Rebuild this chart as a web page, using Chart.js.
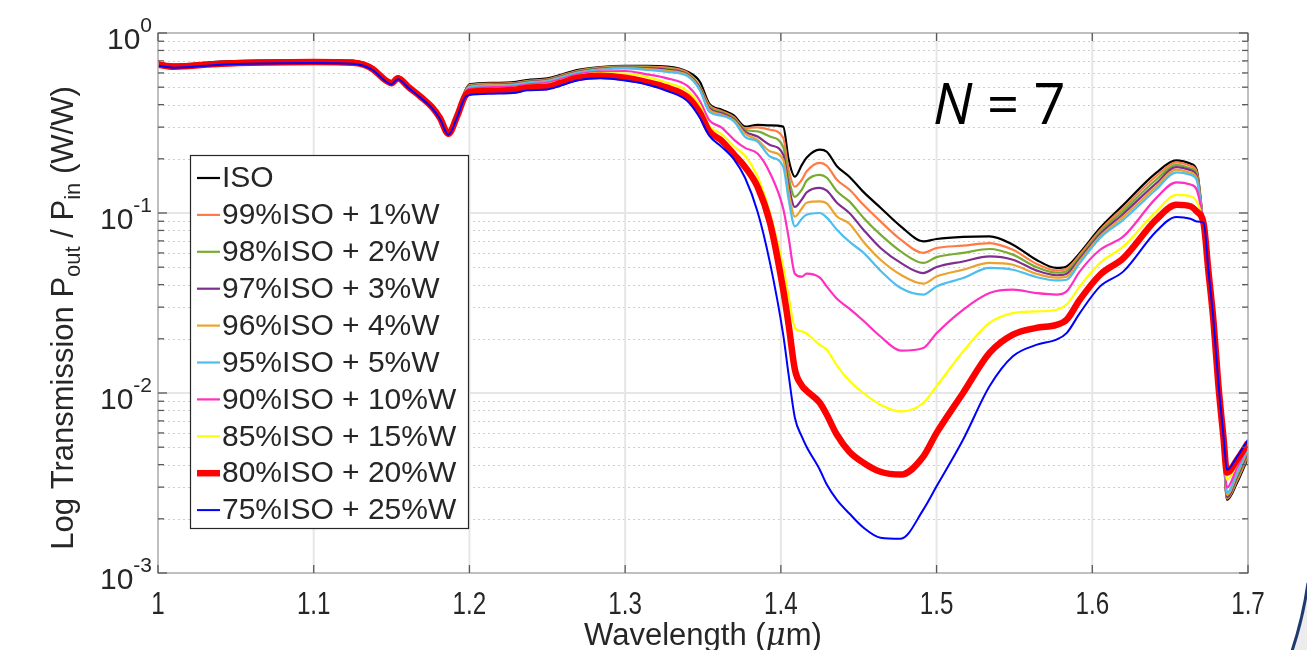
<!DOCTYPE html>
<html>
<head>
<meta charset="utf-8">
<script src="https://cdn.jsdelivr.net/npm/chart.js@4.4.1/dist/chart.umd.min.js"></script>
<style>
html,body{margin:0;padding:0;background:#ffffff;}
#wrap{position:relative;width:1307px;height:650px;overflow:hidden;}
canvas{display:block;}
</style>
</head>
<body>
<div id="wrap"><canvas id="c" width="1307" height="650"></canvas></div>
<script>
// ---------------- DATA ----------------
const wavelength = [1.000,1.010,1.040,1.070,1.100,1.125,1.132,1.138,1.146,1.150,1.154,1.161,1.169,1.176,1.181,1.1865,1.192,1.197,
1.200,1.215,1.230,1.237,1.250,1.258,1.269,1.284,1.300,1.314,1.327,1.340,
1.348,1.354,1.362,1.370,1.377,1.385,1.393,1.4015,
1.405,1.409,1.4135,1.4165,1.425,1.4295,1.436,1.444,1.453,1.464,1.477,1.4915,
1.500,1.517,1.534,1.549,1.564,1.577,1.5835,1.592,1.605,1.620,1.641,1.654,1.663,1.667,
1.6715,1.6746,1.6778,1.681,1.6842,1.6865,1.693,1.700];

const tISO = [0.684,0.667,0.693,0.703,0.708,0.702,0.684,0.646,0.561,0.540,0.575,0.513,0.451,0.397,0.347,0.283,0.352,0.472,
0.519,0.529,0.536,0.548,0.560,0.584,0.623,0.647,0.656,0.656,0.650,0.610,
0.536,0.405,0.375,0.347,0.302,0.309,0.307,0.302,
0.198,0.159,0.185,0.203,0.225,0.219,0.182,0.159,0.131,0.107,0.0843,0.0696,
0.0717,0.0736,0.0741,0.0667,0.0550,0.0495,0.0505,0.0600,0.0825,0.111,0.167,0.196,0.188,0.174,
0.0828,0.0454,0.0237,0.00979,0.00484,0.00255,0.00318,0.00437];

const t99ISO1W = [0.675,0.658,0.684,0.694,0.699,0.693,0.675,0.638,0.554,0.533,0.568,0.506,0.445,0.392,0.343,0.279,0.347,0.466,
0.513,0.523,0.529,0.541,0.552,0.577,0.615,0.642,0.652,0.650,0.642,0.602,
0.506,0.397,0.368,0.340,0.296,0.299,0.290,0.262,
0.174,0.140,0.153,0.170,0.190,0.183,0.153,0.135,0.111,0.0898,0.0711,0.0600,
0.0639,0.0658,0.0681,0.0625,0.0523,0.0480,0.0490,0.0587,0.0802,0.107,0.160,0.191,0.183,0.170,
0.0828,0.0454,0.0237,0.00991,0.00490,0.00259,0.00326,0.00448];

const t98ISO2W = [0.675,0.658,0.684,0.694,0.699,0.693,0.675,0.638,0.554,0.533,0.568,0.506,0.445,0.392,0.343,0.279,0.347,0.466,
0.509,0.519,0.526,0.538,0.549,0.573,0.611,0.638,0.647,0.643,0.633,0.594,
0.500,0.390,0.363,0.336,0.290,0.284,0.266,0.233,
0.157,0.123,0.135,0.151,0.163,0.157,0.132,0.116,0.0942,0.0758,0.0612,0.0528,
0.0569,0.0600,0.0631,0.0587,0.0501,0.0466,0.0475,0.0572,0.0782,0.103,0.153,0.185,0.177,0.165,
0.0828,0.0454,0.0239,0.00991,0.00497,0.00262,0.00334,0.00460];

const t97ISO3W = [0.675,0.658,0.684,0.694,0.699,0.693,0.675,0.638,0.554,0.533,0.568,0.506,0.445,0.392,0.343,0.279,0.347,0.466,
0.506,0.516,0.523,0.534,0.545,0.569,0.607,0.633,0.643,0.637,0.625,0.588,
0.494,0.382,0.358,0.330,0.283,0.266,0.239,0.211,
0.142,0.108,0.119,0.130,0.138,0.133,0.114,0.100,0.0808,0.0639,0.0528,0.0464,
0.0501,0.0538,0.0574,0.0550,0.0480,0.0451,0.0460,0.0557,0.0762,0.0991,0.146,0.180,0.173,0.161,
0.0828,0.0460,0.0239,0.0100,0.00503,0.00265,0.00343,0.00472];

const t96ISO4W = [0.675,0.658,0.684,0.694,0.699,0.693,0.675,0.638,0.554,0.533,0.568,0.506,0.445,0.392,0.343,0.279,0.347,0.466,
0.503,0.513,0.519,0.531,0.542,0.566,0.603,0.629,0.639,0.630,0.617,0.583,
0.487,0.375,0.352,0.326,0.276,0.255,0.220,0.198,
0.131,0.0954,0.106,0.114,0.116,0.113,0.0957,0.0872,0.0693,0.0550,0.0454,0.0405,
0.0444,0.0484,0.0528,0.0516,0.0460,0.0437,0.0443,0.0543,0.0743,0.0954,0.140,0.174,0.167,0.157,
0.0828,0.0460,0.0243,0.0102,0.00509,0.00272,0.00352,0.00484];

const t95ISO5W = [0.675,0.658,0.684,0.694,0.699,0.693,0.675,0.638,0.554,0.533,0.568,0.506,0.445,0.392,0.343,0.279,0.347,0.460,
0.500,0.509,0.516,0.527,0.539,0.562,0.599,0.625,0.636,0.623,0.607,0.577,
0.481,0.365,0.347,0.322,0.265,0.249,0.206,0.181,
0.119,0.0843,0.0930,0.0979,0.100,0.0942,0.0808,0.0693,0.0602,0.0478,0.0383,0.0352,
0.0391,0.0435,0.0495,0.0484,0.0441,0.0422,0.0426,0.0528,0.0726,0.0918,0.135,0.168,0.163,0.153,
0.0839,0.0460,0.0243,0.0102,0.00516,0.00279,0.00361,0.00497];

const t90ISO10W = [0.675,0.658,0.684,0.694,0.699,0.693,0.675,0.638,0.554,0.533,0.568,0.506,0.445,0.392,0.343,0.279,0.347,0.454,
0.490,0.500,0.506,0.517,0.528,0.551,0.588,0.610,0.615,0.589,0.560,0.508,
0.419,0.328,0.298,0.255,0.230,0.214,0.167,0.106,
0.0729,0.0460,0.0443,0.0460,0.0437,0.0390,0.0334,0.0294,0.0252,0.0206,0.0172,0.0178,
0.0215,0.0290,0.0359,0.0375,0.0359,0.0352,0.0367,0.0474,0.0625,0.0741,0.121,0.148,0.144,0.135,
0.0850,0.0466,0.0246,0.0104,0.00536,0.00298,0.00385,0.00509];

const t85ISO15W = [0.667,0.650,0.675,0.686,0.690,0.684,0.667,0.629,0.547,0.526,0.561,0.500,0.440,0.387,0.338,0.276,0.343,0.448,
0.481,0.490,0.497,0.508,0.518,0.541,0.577,0.598,0.594,0.569,0.529,0.476,
0.395,0.305,0.274,0.234,0.208,0.160,0.100,0.0503,
0.0343,0.0231,0.0220,0.0214,0.0185,0.0174,0.0142,0.0117,0.0100,0.00861,0.00790,0.00880,
0.0109,0.0170,0.0245,0.0278,0.0284,0.0290,0.0310,0.0391,0.0528,0.0652,0.102,0.126,0.124,0.116,
0.0861,0.0472,0.0249,0.0107,0.00550,0.00330,0.00405,0.00516];

const t80ISO20W = [0.667,0.650,0.675,0.686,0.690,0.684,0.667,0.629,0.547,0.526,0.561,0.500,0.440,0.387,0.338,0.276,0.343,0.443,
0.470,0.478,0.484,0.497,0.503,0.526,0.562,0.579,0.564,0.534,0.497,0.441,
0.361,0.285,0.252,0.211,0.180,0.140,0.0884,0.0375,
0.0239,0.0135,0.0110,0.0103,0.00883,0.00757,0.00586,0.00472,0.00410,0.00365,0.00352,0.00444,
0.00600,0.0100,0.0167,0.0211,0.0230,0.0239,0.0255,0.0330,0.0454,0.0562,0.0918,0.111,0.109,0.102,
0.0872,0.0472,0.0252,0.0110,0.00572,0.00361,0.00426,0.00530];

const t75ISO25W = [0.658,0.642,0.667,0.677,0.681,0.675,0.658,0.621,0.540,0.519,0.554,0.494,0.434,0.382,0.334,0.272,0.338,0.437,
0.452,0.460,0.466,0.480,0.486,0.508,0.545,0.560,0.545,0.518,0.476,0.419,
0.338,0.269,0.233,0.198,0.157,0.102,0.0530,0.0211,
0.0126,0.00729,0.00572,0.00503,0.00375,0.00310,0.00255,0.00214,0.00179,0.00157,0.00155,0.00225,
0.00303,0.00550,0.0109,0.0160,0.0185,0.0198,0.0215,0.0278,0.0391,0.0474,0.0790,0.0950,0.0930,0.0898,
0.0884,0.0478,0.0255,0.0113,0.00586,0.00375,0.00443,0.00550];

const seriesLabels = ['ISO','99%ISO + 1%W','98%ISO + 2%W','97%ISO + 3%W','96%ISO + 4%W','95%ISO + 5%W',
  '90%ISO + 10%W','85%ISO + 15%W','80%ISO + 20%W','75%ISO + 25%W'];
const seriesValues = [tISO,t99ISO1W,t98ISO2W,t97ISO3W,t96ISO4W,t95ISO5W,t90ISO10W,t85ISO15W,t80ISO20W,t75ISO25W];

const xTickValues = [1.0,1.1,1.2,1.3,1.4,1.5,1.6,1.7];
const xTickLabels = ['1','1.1','1.2','1.3','1.4','1.5','1.6','1.7'];
const yTickValues = [1,0.1,0.01,0.001];
const yTickExponents = ['0','-1','-2','-3'];
const yMinorValues = [0.9,0.8,0.7,0.6,0.5,0.4,0.3,0.2,0.09,0.08,0.07,0.06,0.05,0.04,0.03,0.02,0.009,0.008,0.007,0.006,0.005,0.004,0.003,0.002];

const xTitle = ['Wavelength (', 'μ', 'm)'];
const yTitleParts = [['Log Transmission P',0],['out',1],[' / P',0],['in',1],[' (W/W)',0]];
const annotationN = ['N',' = 7'];

// ---------------- STYLE ----------------
const seriesColors = ['#000000','#ff7a45','#77ac30','#7e2f8e','#eca22e','#4dbeee','#ff2fc0','#ffff00','#ff0000','#0000ff'];
const seriesWidths = [2.2,2.2,2.2,2.2,2.2,2.2,2.2,2.2,6.5,2];
const FONT = '"Liberation Sans", Arial, Helvetica, sans-serif';
const TXT = '#262626';

function seg(ctx,x1,y1,x2,y2){ctx.beginPath();ctx.moveTo(x1,y1);ctx.lineTo(x2,y2);ctx.stroke();}

const figurePlugin = {
  id: 'figure',
  beforeDatasetsDraw(chart) {
    const {ctx, chartArea: a, scales: {x, y}} = chart;
    ctx.save();
    ctx.strokeStyle = '#cfcfcf'; ctx.lineWidth = 1; ctx.setLineDash([2,3]);
    for (const v of yMinorValues) { const py = Math.round(y.getPixelForValue(v)) + 0.5; seg(ctx, a.left, py, a.right, py); }
    ctx.setLineDash([]);
    ctx.strokeStyle = '#e6e6e6'; ctx.lineWidth = 2;
    for (const v of yTickValues) { const py = y.getPixelForValue(v); seg(ctx, a.left, py, a.right, py); }
    for (const v of xTickValues) { const px = x.getPixelForValue(v); seg(ctx, px, a.top, px, a.bottom); }
    ctx.restore();
  },
  afterDatasetsDraw(chart) {
    const {ctx, chartArea: a, scales: {x, y}} = chart;
    ctx.save();
    // axes box
    ctx.strokeStyle = '#b3b3b3'; ctx.lineWidth = 1.5;
    ctx.strokeRect(a.left, a.top, a.right - a.left, a.bottom - a.top);
    // ticks
    ctx.strokeStyle = '#5a5a5a'; ctx.lineWidth = 1.3;
    for (const v of xTickValues) {
      const px = x.getPixelForValue(v);
      seg(ctx, px, a.bottom, px, a.bottom - 8); seg(ctx, px, a.top, px, a.top + 8);
    }
    for (const v of yTickValues) {
      const py = y.getPixelForValue(v);
      seg(ctx, a.left, py, a.left + 9, py); seg(ctx, a.right, py, a.right - 9, py);
    }
    for (const v of yMinorValues) {
      const py = y.getPixelForValue(v);
      seg(ctx, a.left, py, a.left + 6, py); seg(ctx, a.right, py, a.right - 6, py);
    }
    // x tick labels
    ctx.fillStyle = TXT; ctx.textAlign = 'center'; ctx.textBaseline = 'alphabetic';
    ctx.font = '31px ' + FONT;
    xTickValues.forEach((v, i) => {
      const px = x.getPixelForValue(v);
      ctx.save(); ctx.translate(px, 614); ctx.scale(0.78, 1); ctx.fillText(xTickLabels[i], 0, 0); ctx.restore();
    });
    // y tick labels 10^n
    yTickValues.forEach((v, i) => {
      const py = y.getPixelForValue(v);
      ctx.font = '30px ' + FONT; const w1 = ctx.measureText('10').width;
      ctx.font = '21px ' + FONT; const w2 = ctx.measureText(yTickExponents[i]).width;
      const right = 152, x0 = right - w1 - w2;
      ctx.textAlign = 'left';
      ctx.font = '30px ' + FONT; ctx.fillText('10', x0, py + 16);
      ctx.font = '21px ' + FONT; ctx.fillText(yTickExponents[i], x0 + w1, py - 1);
    });
    // x title
    ctx.textAlign = 'left';
    const fA = '31px ' + FONT, fB = 'italic 31px "DejaVu Serif", serif';
    ctx.font = fA; const wA = ctx.measureText(xTitle[0]).width;
    ctx.font = fB; const wB = ctx.measureText(xTitle[1]).width;
    ctx.font = fA; const wC = ctx.measureText(xTitle[2]).width;
    let xs = (a.left + a.right) / 2 - (wA + wB + wC) / 2;
    ctx.fillText(xTitle[0], xs, 645);
    ctx.font = fB; ctx.fillText(xTitle[1], xs + wA, 645);
    ctx.font = fA; ctx.fillText(xTitle[2], xs + wA + wB, 645);
    // y title (rotated) with subscripts
    ctx.save();
    ctx.translate(73, (a.top + a.bottom) / 2 + 15);
    ctx.rotate(-Math.PI / 2);
    let total = 0;
    for (const [t, sub] of yTitleParts) { ctx.font = (sub ? '22px ' : '31px ') + FONT; total += ctx.measureText(t).width; }
    let cx = -total / 2;
    for (const [t, sub] of yTitleParts) {
      ctx.font = (sub ? '22px ' : '31px ') + FONT;
      ctx.fillText(t, cx, sub ? 7 : 0);
      cx += ctx.measureText(t).width;
    }
    ctx.restore();
    // legend
    const lx = 190, ly = 155, lw = 278, lh = 373;
    ctx.fillStyle = '#ffffff'; ctx.fillRect(lx, ly, lw, lh);
    ctx.strokeStyle = '#262626'; ctx.lineWidth = 1.2; ctx.strokeRect(lx + 0.5, ly + 0.5, lw, lh);
    ctx.textBaseline = 'middle'; ctx.textAlign = 'left'; ctx.font = '30px ' + FONT;
    seriesLabels.forEach((lab, i) => {
      const yy = 178 + i * 36.9;
      ctx.strokeStyle = seriesColors[i]; ctx.lineWidth = seriesWidths[i];
      seg(ctx, 197, yy, 220, yy);
      ctx.fillStyle = TXT; ctx.fillText(lab, 222, yy + 1);
    });
    // N = 7 annotation
    ctx.textBaseline = 'alphabetic'; ctx.fillStyle = '#000000';
    ctx.font = 'italic 56px "Open Sans", ' + FONT;
    ctx.fillText(annotationN[0], 933, 124);
    const wN = ctx.measureText(annotationN[0]).width;
    ctx.font = '56px "Open Sans", ' + FONT;
    ctx.fillText(annotationN[1], 933 + wN, 124);
    // slide decoration bottom-right
    ctx.beginPath(); ctx.moveTo(1308, 583); ctx.quadraticCurveTo(1303, 618, 1292, 651); ctx.lineTo(1308, 651); ctx.closePath();
    ctx.fillStyle = '#ececec'; ctx.fill();
    ctx.beginPath(); ctx.moveTo(1308, 583); ctx.quadraticCurveTo(1303, 618, 1292, 651);
    ctx.strokeStyle = '#1f3a6e'; ctx.lineWidth = 3; ctx.stroke();
    ctx.restore();
  }
};

const datasets = seriesLabels.map((lab, i) => ({
  label: lab,
  data: wavelength.map((w, j) => ({x: w, y: seriesValues[i][j]})),
  borderColor: seriesColors[i],
  backgroundColor: seriesColors[i],
  borderWidth: seriesWidths[i],
  pointRadius: 0,
  fill: false,
  cubicInterpolationMode: 'monotone',
  order: seriesLabels.length - i
}));

new Chart(document.getElementById('c'), {
  type: 'line',
  data: { datasets },
  options: {
    responsive: false,
    animation: false,
    devicePixelRatio: 1,
    layout: { padding: { left: 158, right: 59, top: 33, bottom: 77 } },
    plugins: { legend: { display: false }, tooltip: { enabled: false } },
    scales: {
      x: { type: 'linear', min: 1.0, max: 1.7, display: false },
      y: { type: 'logarithmic', min: 0.001, max: 1, display: false }
    }
  },
  plugins: [figurePlugin]
});
</script>
</body>
</html>
